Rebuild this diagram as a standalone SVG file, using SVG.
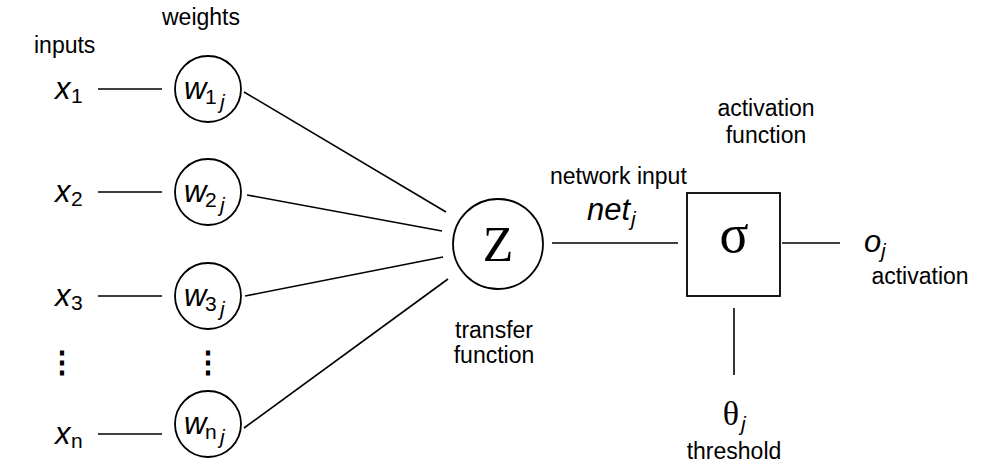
<svg xmlns="http://www.w3.org/2000/svg" width="1000" height="473" viewBox="0 0 1000 473">
<style>
text{font-family:"Liberation Sans",Arial,sans-serif;fill:#000}
.lbl{font-size:23px}
.var{font-size:31px;font-style:italic}
.sub{font-size:21px}
.it{font-style:italic}
.up{font-style:normal;font-size:30px;font-weight:bold}
.serif{font-family:"Liberation Serif","Times New Roman",serif}
.ln{stroke:#000;stroke-width:1.6;fill:none}
.nd{stroke:#000;stroke-width:1.8;fill:#fff}
</style>
<rect width="1000" height="473" fill="#fff"/>
<g id="connectors">
<line class="ln" x1="98" y1="89" x2="162" y2="89"/>
<line class="ln" x1="98" y1="192" x2="162" y2="192"/>
<line class="ln" x1="98" y1="296" x2="162" y2="296"/>
<line class="ln" x1="98" y1="434" x2="162" y2="434"/>
<line class="ln" x1="244" y1="92" x2="446" y2="212"/>
<line class="ln" x1="247" y1="195" x2="442" y2="231"/>
<line class="ln" x1="245" y1="296" x2="443" y2="257"/>
<line class="ln" x1="244" y1="428" x2="448" y2="279"/>
<line class="ln" x1="552" y1="243" x2="678" y2="243"/>
<line class="ln" x1="782" y1="243" x2="840" y2="243"/>
<line class="ln" x1="734" y1="308" x2="734" y2="375"/>
</g>
<g id="labels">
<text class="lbl" x="34" y="53">inputs</text>
<text class="lbl" x="162" y="25">weights</text>
<text class="lbl" x="550" y="184">network input</text>
<text class="lbl" x="766" y="116" text-anchor="middle">activation</text>
<text class="lbl" x="766" y="143" text-anchor="middle">function</text>
<text class="lbl" x="494" y="338" text-anchor="middle">transfer</text>
<text class="lbl" x="494" y="363" text-anchor="middle">function</text>
<text class="lbl" x="920" y="284" text-anchor="middle">activation</text>
<text class="lbl" x="734" y="459" text-anchor="middle">threshold</text>
</g>
<g id="x1"><text class="var" x="55" y="99">x</text><text class="sub" x="71" y="103">1</text></g>
<g id="x2"><text class="var" x="55" y="202">x</text><text class="sub" x="71" y="206">2</text></g>
<g id="x3"><text class="var" x="55" y="306">x</text><text class="sub" x="71" y="310">3</text></g>
<g id="xdots"><text class="up" x="62" y="372" text-anchor="middle">⋮</text></g>
<g id="xn"><text class="var" x="55" y="444">x</text><text class="sub" x="71" y="448">n</text></g>
<g id="w1"><circle class="nd" cx="208" cy="89" r="33"/><text class="var" x="184" y="99">w</text><text class="sub" x="205" y="104">1</text><text class="sub it" x="220" y="109">j</text></g>
<g id="w2"><circle class="nd" cx="208" cy="192" r="33"/><text class="var" x="184" y="202">w</text><text class="sub" x="205" y="207">2</text><text class="sub it" x="220" y="212">j</text></g>
<g id="w3"><circle class="nd" cx="208" cy="296" r="33"/><text class="var" x="184" y="306">w</text><text class="sub" x="205" y="311">3</text><text class="sub it" x="220" y="316">j</text></g>
<g id="wdots"><text class="up" x="208" y="372" text-anchor="middle">⋮</text></g>
<g id="wn"><circle class="nd" cx="208" cy="424" r="33"/><text class="var" x="184" y="434">w</text><text class="sub" x="205" y="439">n</text><text class="sub it" x="220" y="444">j</text></g>
<g id="z"><circle class="nd" cx="498" cy="244" r="45"/><text class="serif" x="498" y="261" text-anchor="middle" font-size="50">Z</text></g>
<g id="net"><text class="var" x="587" y="220">net</text><text class="sub it" x="631" y="226">j</text></g>
<g id="sigma"><rect class="nd" x="687" y="193" width="93" height="103"/><text class="serif" x="734" y="252" text-anchor="middle" font-size="54">σ</text></g>
<g id="o"><text class="var" x="864" y="252">o</text><text class="sub it" x="881" y="258">j</text></g>
<g id="theta"><text class="serif" x="731" y="425" text-anchor="middle" font-size="34">θ</text><text class="sub it" x="741" y="431">j</text></g>
</svg>
